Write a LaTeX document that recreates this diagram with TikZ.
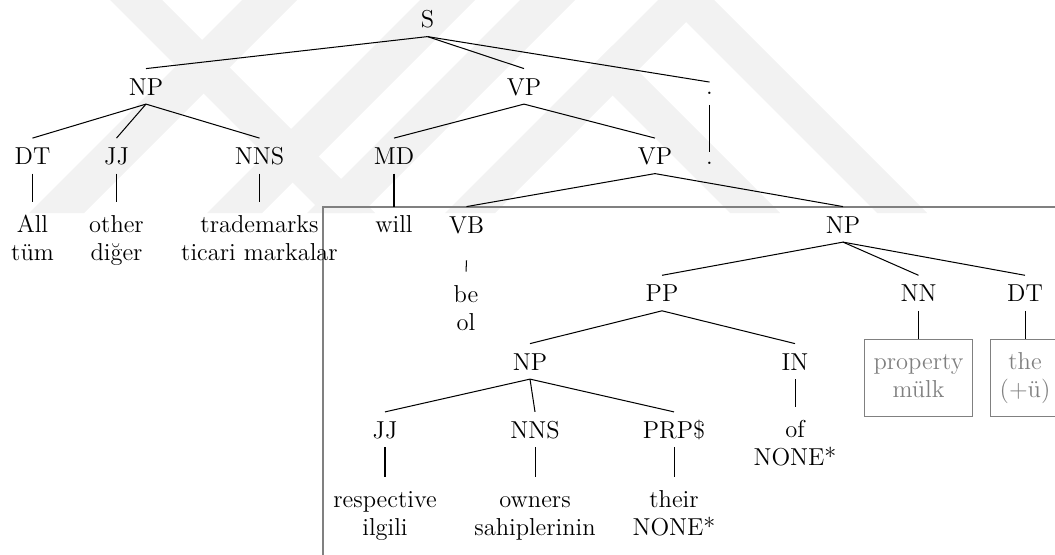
\documentclass[tikz,border=0pt]{standalone}
\usepackage{fontspec}
\begin{document}
\fontsize{12}{13.9}\selectfont
\begin{tikzpicture}[x=0.49pt,y=-0.49pt,
  cat/.style={anchor=base, text height=12.74pt, text depth=4.26pt, inner ysep=0pt, inner xsep=2pt},
  dotnode/.style={anchor=base, text height=5.9pt, text depth=4.9pt, inner ysep=0pt, inner xsep=2pt},
  leaf/.style={anchor=north, align=center, inner ysep=5pt, inner xsep=4.5pt},
  glossbox/.style={leaf, draw=gray, text=gray, line width=0.5pt},
  branch/.style={line width=0.5pt},
  subframe/.style={draw=gray, line width=0.55pt},
  wmark/.style={fill=black!5},
]
\useasboundingbox (0,0) rectangle (1055,554);
\clip (0,0) rectangle (1055,554);

% background emblem: diagonal bands
\newcommand\slashband[2]{\fill[wmark] (#1,0) -- (#1+#2,0) -- (#1+#2-213,213) -- (#1-213,213) -- cycle;}
\newcommand\backband[2]{\fill[wmark] (#1,0) -- (#1+#2,0) -- (#1+#2+213,213) -- (#1+213,213) -- cycle;}
\backband{110}{52}
\slashband{242}{55}
\slashband{420}{55}
\slashband{520}{55}
\fill[wmark] (686,-28) -- (927,213) -- (877,213) -- (686,22) -- (495,213) -- (445,213) -- cycle;
\fill[wmark] (612.5,45.5) -- (780,213) -- (730,213) -- (587.5,70.5) -- cycle;

% frame around the lower subtree
\draw[subframe] (323,570) |- (1070,207);

% tree nodes
\node[cat] (S) at (427.5,27.5) {S};
\node[cat] (np1) at (146,95) {NP};
\node[cat] (vp1) at (524,95) {VP};
\node[dotnode] (pu1) at (709.5,94.5) {.};

\node[cat] (dt1) at (32.5,164.5) {DT};
\node[cat] (jj1) at (116.5,164.5) {JJ};
\node[cat] (nns1) at (259.5,164.5) {NNS};
\node[cat] (md) at (394,164.5) {MD};
\node[cat] (vp2) at (655,164.5) {VP};
\node[dotnode] (pu2) at (709.5,164) {.};

\node[leaf] (all) at (32.5,202) {\strut All\\\strut tüm};
\node[leaf] (other) at (116.5,202) {\strut other\\\strut diğer};
\node[leaf] (tm) at (259.5,202) {\strut trademarks\\\strut ticari markalar};
\node[leaf, inner ysep=2.6pt] (will) at (394,206.7) {\strut will};
\node[cat, text depth=13.2pt] (vb) at (466.5,233) {VB};
\node[cat] (np3) at (843,233) {NP};

\node[leaf] (be) at (466,271.7) {\strut be\\\strut ol};
\node[cat] (pp) at (662,301.7) {PP};
\node[cat] (nn) at (918.5,301.7) {NN};
\node[cat] (dt2) at (1025,301.7) {DT};

\node[glossbox] (prop) at (918.5,339) {\strut property\\\strut mülk};
\node[glossbox] (the) at (1025,339) {\strut the\\\strut (+ü)};

\node[cat] (np4) at (530,370) {NP};
\node[cat] (in) at (795,370) {IN};
\node[leaf] (of) at (795,406.7) {\strut of\\\strut NONE*};

\node[cat] (jj2) at (385,438.3) {JJ};
\node[cat] (nns2) at (535,438.3) {NNS};
\node[cat] (prp) at (674,438.3) {PRP\$};

\node[leaf] (resp) at (385,476.7) {\strut respective\\\strut ilgili};
\node[leaf] (own) at (535,476.7) {\strut owners\\\strut sahiplerinin};
\node[leaf] (their) at (674,476.7) {\strut their\\\strut NONE*};

% branches
\draw[branch] (S.south) -- (np1.north);
\draw[branch] (S.south) -- (vp1.north);
\draw[branch] (S.south) -- (pu1.north);
\draw[branch] (np1.south) -- (dt1.north);
\draw[branch] (np1.south) -- (jj1.north);
\draw[branch] (np1.south) -- (nns1.north);
\draw[branch] (vp1.south) -- (md.north);
\draw[branch] (vp1.south) -- (vp2.north);
\draw[branch] (pu1.south) -- (pu2.north);
\draw[branch] (dt1.south) -- (all.north);
\draw[branch] (jj1.south) -- (other.north);
\draw[branch] (nns1.south) -- (tm.north);
\draw[branch] (md.south) -- (will.north);
\draw[branch] (vp2.south) -- (vb.north);
\draw[branch] (vp2.south) -- (np3.north);
\draw[branch] (vb.south) -- (be.north);
\draw[branch] (np3.south) -- (pp.north);
\draw[branch] (np3.south) -- (nn.north);
\draw[branch] (np3.south) -- (dt2.north);
\draw[branch] (nn.south) -- (prop.north);
\draw[branch] (dt2.south) -- (the.north);
\draw[branch] (pp.south) -- (np4.north);
\draw[branch] (pp.south) -- (in.north);
\draw[branch] (in.south) -- (of.north);
\draw[branch] (np4.south) -- (jj2.north);
\draw[branch] (np4.south) -- (nns2.north);
\draw[branch] (np4.south) -- (prp.north);
\draw[branch] (jj2.south) -- (resp.north);
\draw[branch] (nns2.south) -- (own.north);
\draw[branch] (prp.south) -- (their.north);
\end{tikzpicture}
\end{document}
